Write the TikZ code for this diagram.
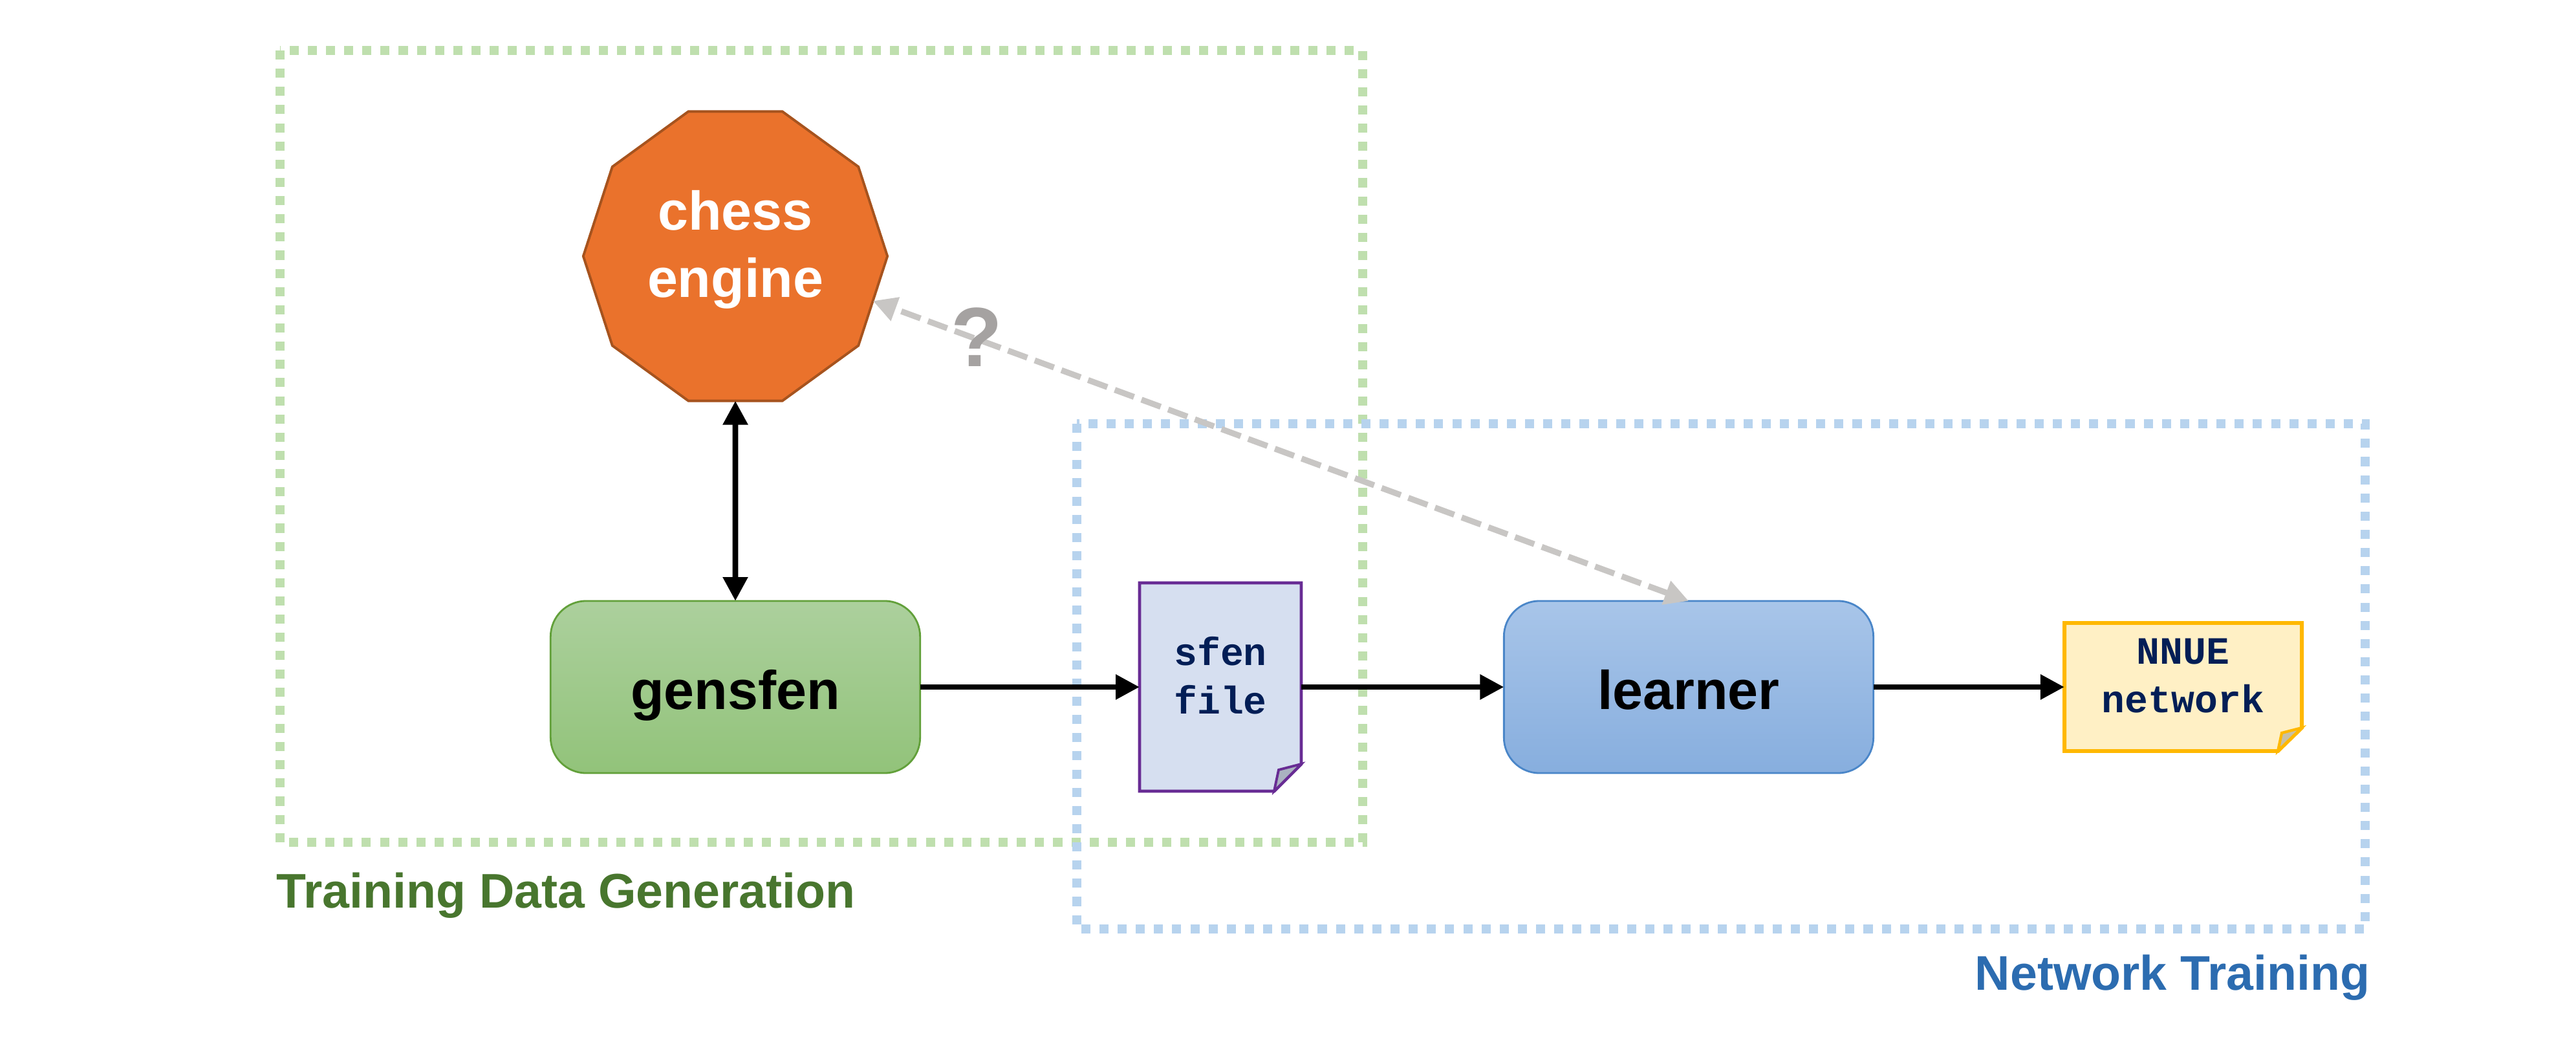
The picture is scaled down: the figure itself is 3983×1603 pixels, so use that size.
\documentclass[tikz,border=0pt]{standalone}
\usepackage{fontspec}
\setmainfont{Liberation Sans}
\setmonofont{Liberation Mono}
\usepackage{xcolor}
\usetikzlibrary{arrows.meta, shapes.geometric}

\definecolor{engineorange}{RGB}{234,114,44}
\definecolor{engineedge}{RGB}{166,83,30}
\definecolor{gentop}{RGB}{172,208,157}
\definecolor{genbot}{RGB}{146,195,122}
\definecolor{genedge}{RGB}{98,160,58}
\definecolor{learntop}{RGB}{168,197,233}
\definecolor{learnbot}{RGB}{135,174,222}
\definecolor{learnedge}{RGB}{74,134,200}
\definecolor{sfenfill}{RGB}{214,223,240}
\definecolor{sfenedge}{RGB}{104,44,148}
\definecolor{sfenflap}{RGB}{170,178,192}
\definecolor{nnuefill}{RGB}{255,240,197}
\definecolor{nnueedge}{RGB}{255,184,0}
\definecolor{nnueflap}{RGB}{200,192,165}
\definecolor{filetext}{RGB}{2,30,86}
\definecolor{gendots}{RGB}{191,223,174}
\definecolor{traindots}{RGB}{183,211,238}
\definecolor{gentext}{RGB}{72,118,46}
\definecolor{traintext}{RGB}{44,108,176}
\definecolor{hintgray}{RGB}{200,198,196}
\definecolor{querygray}{RGB}{165,162,161}

\begin{document}
\begin{tikzpicture}[
  x=0.01cm, y=-0.01cm,
  >={Triangle[length=10.5pt, width=10.5pt]},
  prog/.style={draw, rounded corners=0.55cm, line width=0.8pt, minimum width=5.71cm,
               minimum height=2.66cm, outer sep=0pt, text height=0.86cm, text depth=0.18cm,
               font=\fontsize{24}{29}\selectfont\bfseries},
  agent/.style={regular polygon, regular polygon sides=10, minimum size=4.70cm,
                draw=engineedge, fill=engineorange, line width=1.1pt, outer sep=0pt,
                inner sep=0pt, align=center, text=white, text depth=0.38cm,
                font=\fontsize{24}{29.6}\selectfont\bfseries},
  doc/.style={align=center, outer sep=0pt, inner sep=0pt, text=filetext, text depth=0.36cm,
              font=\ttfamily\fontsize{17}{21.3}\selectfont\bfseries},
  zone/.style={line width=4pt, dash pattern=on 4pt off 4pt},
  arr/.style={->, line width=2.5pt},
  hint/.style={<->, line width=2.6pt, hintgray, dash pattern=on 9pt off 3.5pt},
  tag/.style={inner sep=0pt, font=\fontsize{21.4}{25}\selectfont\bfseries}
]
\useasboundingbox (0,0) rectangle (3983,1603);
% stage frames
\draw[zone, gendots] (433,78) rectangle (2107,1302);
\draw[zone, traindots] (1665,655) rectangle (3657,1436);
\node[tag, text=gentext, anchor=base west] (genlabel) at (427,1403) {Training Data Generation};
\node[tag, text=traintext, anchor=base east] (trainlabel) at (3665,1530) {Network Training};
% programs
\node[agent] (engine) at (1137,396) {chess\\engine};
\node[prog, draw=genedge, top color=gentop, bottom color=genbot] (gensfen) at (1137,1062) {gensfen};
\node[prog, draw=learnedge, top color=learntop, bottom color=learnbot] (learner) at (2611,1062) {learner};
% files with folded corner
\draw[draw=sfenedge, fill=sfenfill, line width=1.4pt] (1762,901) -- (2012,901) -- (2012,1181)
  -- (1970,1223) -- (1762,1223) -- cycle;
\draw[draw=sfenedge, fill=sfenflap, line width=1.1pt] (2012,1181) -- (1977,1190) -- (1970,1223) -- cycle;
\node[doc, minimum width=2.5cm, minimum height=3.22cm] (sfen) at (1887,1062) {sfen\\file};
\draw[draw=nnueedge, fill=nnuefill, line width=1.7pt] (3192,963) -- (3559,963) -- (3559,1125)
  -- (3522,1161) -- (3192,1161) -- cycle;
\draw[draw=nnueedge, fill=nnueflap, line width=1.2pt] (3559,1125) -- (3528,1133) -- (3522,1161) -- cycle;
\node[doc, minimum width=3.67cm, minimum height=1.98cm] (nnue) at (3375.5,1062) {NNUE\\network};
% flow
\draw[arr, <->] (engine.south) -- (gensfen.north);
\draw[arr] (gensfen) -- (sfen);
\draw[arr] (sfen) -- (learner);
\draw[arr] (learner) -- (nnue);
\draw[hint] (learner.north) -- (engine.-18);
\node[inner sep=0pt, text=querygray, font=\fontsize{37}{40}\selectfont\bfseries] (query) at (1510,521) {?};
\end{tikzpicture}
\end{document}
